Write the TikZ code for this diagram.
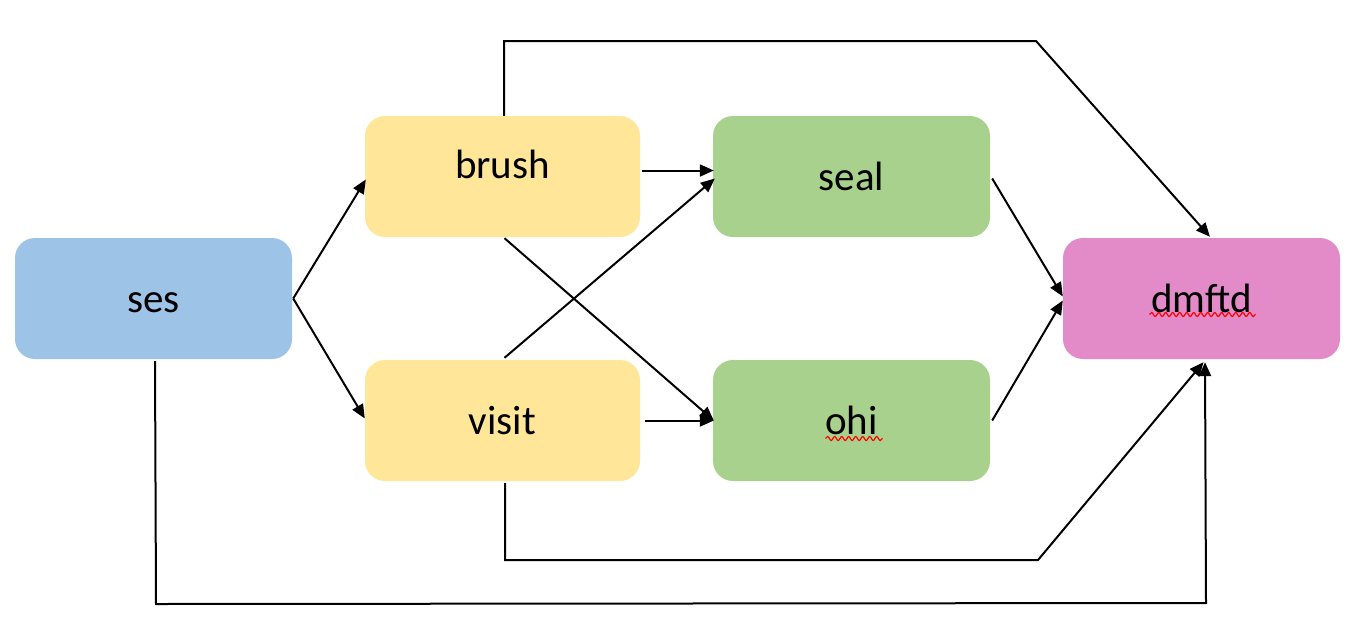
\documentclass[tikz,border=0pt]{standalone}
\usepackage{fontspec}
\setmainfont{Carlito}
\usetikzlibrary{arrows.meta,calc,decorations.pathmorphing}
\definecolor{cblue}{HTML}{9DC3E6}
\definecolor{cyellow}{HTML}{FFE699}
\definecolor{cgreen}{HTML}{A9D18E}
\definecolor{cpink}{HTML}{E28BC8}
\begin{document}
\begin{tikzpicture}[x=1pt,y=-1pt,
  box/.style={rounded corners=20pt,minimum width=277pt,minimum height=121pt,inner sep=0pt,
    font=\fontsize{41}{49}\selectfont,text height=28pt,text depth=0pt},
  conn/.style={line width=2pt,-{Triangle[length=14pt,width=12pt]}},
  squig/.style={red,line width=1.2pt,decorate,decoration={snake,amplitude=2pt,segment length=7pt}}]
\useasboundingbox (0,0) rectangle (1360,630);
\fill[white] (0,0) rectangle (1360,630);

\node[box,fill=cblue] (ses) at (153.5,298.5) {ses};
\node[box,fill=cyellow,minimum width=275pt,text height=4pt] (brush) at (502.5,176.5) {brush};
\node[box,fill=cyellow,minimum width=275pt] (visit) at (502.5,420.5) {visit};
\node[box,fill=cgreen] (seal) at (851.5,176.5) {seal};
\node[box,fill=cgreen] (ohi) at (851.5,420.5) {ohi};
\node[box,fill=cpink] (dmftd) at (1201.5,298.5) {dmftd};

\draw[squig] ($(dmftd.center)+(-52,16)$) coordinate (dq1) -- ($(dmftd.center)+(54,16)$) coordinate (dq2);
\draw[squig] ($(ohi.center)+(-26,18)$) coordinate (oq1) -- ($(ohi.center)+(31,18)$) coordinate (oq2);

\coordinate (tr) at (1036,41);
\coordinate (br) at (1038,560);

\draw[conn] ($(ses.east)+(1,0)$) -- ($(brush.west)+(1,3)$);
\draw[conn] ($(ses.east)+(1,0)$) -- ($(visit.west)+(0,-2)$);
\draw[conn] ($(brush.east)+(2,-6)$) -- ($(seal.west)+(1,-6)$);
\draw[conn] ($(visit.north)+(2,-2)$) -- ($(seal.west)+(2,2)$);
\draw[conn] ($(brush.south)+(2,1)$) -- ($(ohi.west)+(1,0)$);
\draw[conn] ($(visit.east)+(5,0)$) -- ($(ohi.west)+(1,0)$);
\draw[conn] ($(seal.east)+(2,2)$) -- ($(dmftd.west)+(0,-2)$);
\draw[conn] ($(ohi.east)+(2,0)$) -- ($(dmftd.west)+(0,2)$);
\draw[conn] ($(brush.north)+(1.5,0)$) |- (tr) -- ($(dmftd.north)+(8.5,-1)$);
\draw[conn] ($(visit.south)+(2.5,2)$) |- (br) -- ($(dmftd.south)+(2,3)$);
\draw[conn] ($(ses.south)+(1.5,2)$) -- (156,604) -- (1206,603) -- ($(dmftd.south)+(3.5,3)$);
\end{tikzpicture}
\end{document}
